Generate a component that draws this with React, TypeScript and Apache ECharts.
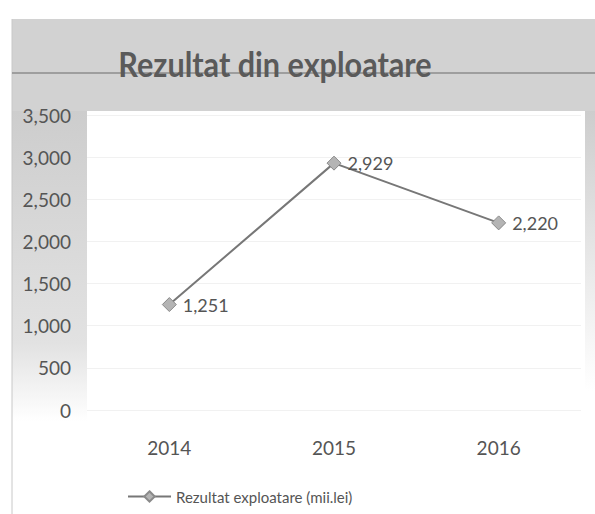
import React, { useEffect, useRef } from "react";
import * as echarts from "echarts";

const categories = ["2014", "2015", "2016"];
const values = [1251, 2929, 2220];
const seriesName = "Rezultat exploatare (mii.lei)";
const titleText = "Rezultat din exploatare";
const yMin = 0;
const yMax = 3500;
const yInterval = 500;

const fmt = (v: number) => v.toLocaleString("en-US");

export default function App() {
  const ref = useRef<HTMLDivElement>(null);
  useEffect(() => {
    if (!ref.current) return;
    const chart = echarts.init(ref.current, null, { renderer: "svg" });
    const font = "Lato, 'Open Sans', sans-serif";
    chart.setOption({
      animation: false,
      backgroundColor: "#ffffff",
      textStyle: { fontFamily: font },
      graphic: [
        {
          type: "rect",
          z: -10,
          shape: { x: 12, y: 19, width: 583, height: 92 },
          style: { fill: "#d2d2d2" },
        },
        {
          type: "rect",
          z: -10,
          shape: { x: 12, y: 111, width: 75, height: 310 },
          style: {
            fill: new echarts.graphic.LinearGradient(0, 0, 0, 1, [
              { offset: 0, color: "#cdcdcd" },
              { offset: 0.75, color: "#e2e2e2" },
              { offset: 1, color: "#ffffff" },
            ]),
          },
        },
        {
          type: "rect",
          z: -10,
          shape: { x: 585, y: 111, width: 10, height: 280 },
          style: {
            fill: new echarts.graphic.LinearGradient(0, 0, 0, 1, [
              { offset: 0, color: "#cdcdcd" },
              { offset: 1, color: "#ffffff" },
            ]),
          },
        },
        {
          type: "line",
          z: -5,
          shape: { x1: 12, y1: 19, x2: 12, y2: 514 },
          style: { stroke: "#c8c8c8", lineWidth: 1 },
        },
        {
          type: "line",
          z: -5,
          shape: { x1: 12, y1: 73, x2: 595, y2: 73 },
          style: { stroke: "#8c8c8c", lineWidth: 1.5 },
        },
        {
          type: "text",
          z: 5,
          x: 275,
          y: 64,
          scaleX: 0.9,
          style: {
            text: titleText,
            fontFamily: font,
            fontSize: 34,
            fontWeight: "bold",
            fill: "#5a5a5a",
            align: "center",
            verticalAlign: "middle",
          },
        },
      ],
      grid: { left: 87, right: 14, top: 115, bottom: 104 },
      legend: {
        data: [seriesName],
        left: 122,
        top: 484,
        itemWidth: 43,
        itemHeight: 13,
        itemGap: 4,
        textStyle: { color: "#555", fontSize: 15, fontFamily: font },
      },
      xAxis: {
        type: "category",
        data: categories,
        axisLine: { show: false },
        axisTick: { show: false },
        axisLabel: { color: "#555", fontSize: 19, margin: 28, fontFamily: font },
        splitLine: { show: false },
      },
      yAxis: {
        type: "value",
        min: yMin,
        max: yMax,
        interval: yInterval,
        axisLine: { show: false },
        axisTick: { show: false },
        axisLabel: {
          color: "#555",
          fontSize: 19,
          margin: 16,
          fontFamily: font,
          formatter: (v: number) => fmt(v),
        },
        splitLine: { lineStyle: { color: "#f1f1f1", width: 1 } },
      },
      series: [
        {
          name: seriesName,
          type: "line",
          data: values,
          symbol: "diamond",
          symbolSize: 14,
          lineStyle: { color: "#777777", width: 2 },
          itemStyle: { color: "#b4b4b4", borderColor: "#8a8a8a", borderWidth: 1 },
          label: {
            show: true,
            position: "right",
            distance: 6,
            color: "#555",
            fontSize: 18,
            fontFamily: font,
            formatter: (p: any) => fmt(p.value),
          },
        },
      ],
    });
    return () => chart.dispose();
  }, []);
  return (
    <div
      ref={ref}
      style={{ position: "absolute", left: 0, top: 0, width: 595, height: 514 }}
    />
  );
}
